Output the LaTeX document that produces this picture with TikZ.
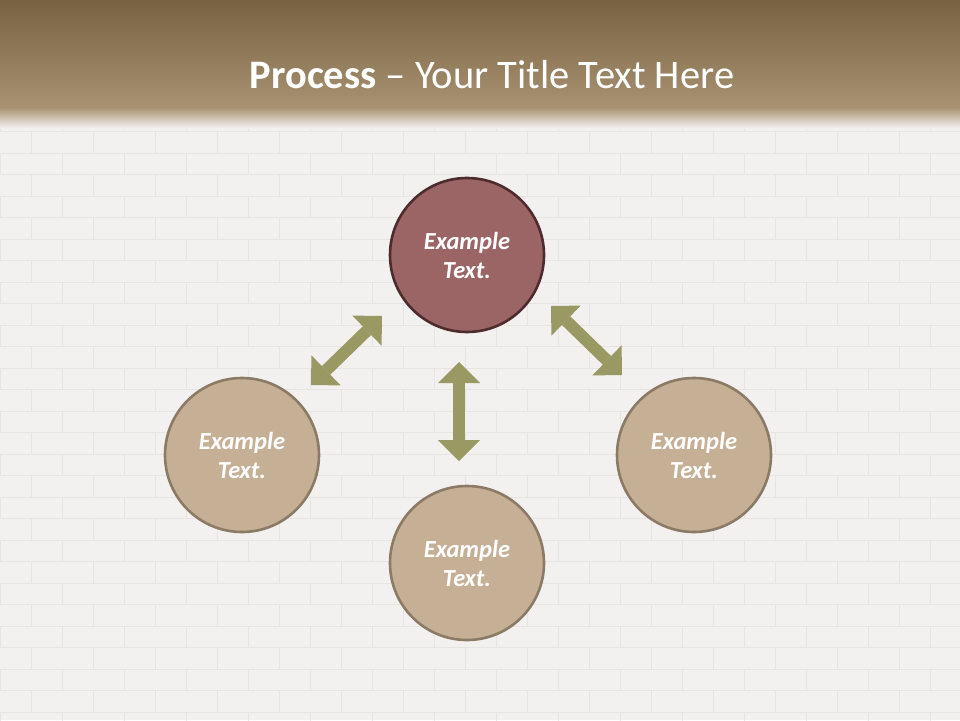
\documentclass[tikz,border=0pt]{standalone}
\usepackage{fontspec}
\setmainfont{Carlito}
\usetikzlibrary{arrows.meta}
\definecolor{bgwall}{HTML}{F2F1EF}
\definecolor{mortar}{HTML}{E7E5E2}
\definecolor{hdtop}{HTML}{776242}
\definecolor{hdbot}{HTML}{A89272}
\definecolor{redfill}{HTML}{9B6566}
\definecolor{redline}{HTML}{4E2C2E}
\definecolor{tanfill}{HTML}{C6B095}
\definecolor{tanline}{HTML}{8B7B66}
\definecolor{olive}{HTML}{999964}
\tikzset{
  stepcircle/.style={circle, minimum size=154pt, inner sep=0pt, line width=2.6pt,
    draw=tanline, fill=tanfill, text=white, align=center,
    font=\fontsize{24.5}{29}\selectfont\bfseries\itshape},
  topcircle/.style={stepcircle, draw=redline, fill=redfill},
  dblarrow/.style={olive, line width=12pt,
    {Triangle[width=42pt,length=21pt,line width=0pt]}-{Triangle[width=42pt,length=21pt,line width=0pt]}},
  brick/.style={mortar, line width=1pt}
}
\begin{document}
\begin{tikzpicture}[x=1pt,y=-1pt]
\useasboundingbox (0,0) rectangle (960,720);
% wall
\fill[bgwall] (0,0) rectangle (960,720);
\foreach \r in {0,...,29}{
  \pgfmathsetmacro{\yy}{110+\r*21.5}
  \draw[brick] (0,\yy) -- (960,\yy);
  \pgfmathsetmacro{\off}{mod(\r,2)*31}
  \foreach \c in {0,...,16}{
    \pgfmathsetmacro{\xx}{\off+\c*62}
    \draw[brick] (\xx,\yy) -- (\xx,\yy+21.5);
  }
}
% header
\shade[top color=hdtop, bottom color=hdbot] (0,0) rectangle (960,108);
\shade[top color=hdbot, bottom color=bgwall] (0,107.5) rectangle (960,128);
\node[text=white, font=\fontsize{40.5}{46}\selectfont] (title) at (492,75)
  {\textbf{Process} -- Your Title Text Here};
% circles
\node[topcircle] (top) at (467,255) {Example\\Text.};
\node[stepcircle] (left) at (242,455) {Example\\Text.};
\node[stepcircle] (right) at (694,455) {Example\\Text.};
\node[stepcircle] (bottom) at (467,563) {Example\\Text.};
% arrow end points
\coordinate (la) at (311,385);
\coordinate (lb) at (382,316);
\coordinate (ma) at (459,362);
\coordinate (mb) at (459,461);
\coordinate (ra) at (551,306);
\coordinate (rb) at (622,375);
\draw[dblarrow] (la) -- (lb);
\draw[dblarrow] (ma) -- (mb);
\draw[dblarrow] (ra) -- (rb);
\end{tikzpicture}
\end{document}
